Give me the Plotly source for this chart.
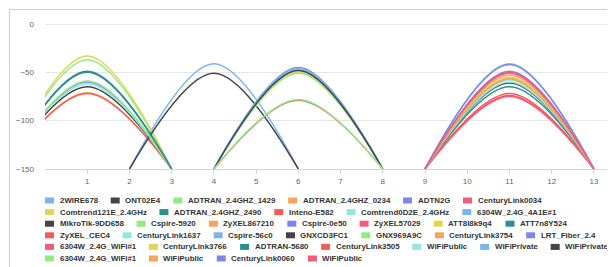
import plotly.graph_objects as go

# ---------------- data ----------------
names = [
    "2WIRE678", "ONT02E4", "ADTRAN_2.4GHZ_1429", "ADTRAN_2.4GHZ_0234", "ADTN2G", "CenturyLink0034",
    "Comtrend121E_2.4GHz", "ADTRAN_2.4GHZ_2490", "Inteno-E582", "Comtrend0D2E_2.4GHz", "6304W_2.4G_4A1E#1",
    "MikroTik-9DD658", "Cspire-5920", "ZyXEL867210", "Cspire-0e50", "ZyXEL57029", "ATT8I8k9q4", "ATT7n8Y524",
    "ZyXEL_CEC4", "CenturyLink1637", "Cspire-56c0", "GNXCD3FC1", "GNX969A9C", "CenturyLink3754", "LRT_Fiber_2.4",
    "6304W_2.4G_WiFi#1", "CenturyLink3766", "ADTRAN-5680", "CenturyLink3505", "WiFiPublic", "WiFiPrivate", "WiFiPrivate",
    "6304W_2.4G_WiFi#1", "WiFiPublic", "CenturyLink0060", "WiFiPublic",
]
channels = [
    4, 1, 1, 1, 1, 6,
    1, 1, 1, 1, 11,
    4, 1, 11, 6, 11, 6, 1,
    11, 11, 6, 11, 6, 11, 11,
    11, 11, 11, 11, 11, 6, 6,
    6, 11, 11, 11,
]
signal_dbm = [
    -41, -65, -37, -71, -60, -79,
    -33, -49, -72, -62, -41,
    -51, -59, -53, -45, -51, -50, -50,
    -74, -58, -46, -61, -51, -56, -49,
    -75, -55, -65, -72, -60, -47, -48,
    -78, -57, -42, -50,
]
legend_rows = [6, 5, 7, 7, 7, 4]
x_ticks = list(range(1, 14))
y_ticks = [0, -50, -100, -150]
floor_dbm = -150
channel_halfwidth = 2

palette = ["#7cb5ec", "#434348", "#90ed7d", "#f7a35c", "#8085e9",
           "#f15c80", "#e4d354", "#2b908f", "#f45b5b", "#91e8e1"]

# ---------------- geometry (page has an 8px body margin) ----------------
PAGE = 8
W, H = 607, 259
L, R, T, B = 37, 0, 16, 98
plot_w = W - L - R
plot_h = H - T - B


def px_x(xs):  # screen px -> paper x
    return (xs - PAGE - L) / plot_w


def px_y(ys):  # screen px -> paper y
    return (H - B - (ys - PAGE)) / plot_h


# Arial/Liberation Sans Bold advance widths (per 1000 em) for legend layout
AW = {c: 556 for c in "0123456789#_"}
AW.update({" ": 278, "-": 333, ".": 278})
AW.update(dict(zip("ABCDEFGHIJKLMNOPQRSTUVWXYZ",
                   [722, 722, 722, 722, 667, 611, 778, 722, 278, 556, 722, 611, 833,
                    722, 778, 667, 778, 722, 667, 611, 722, 667, 944, 667, 667, 611])))
AW.update(dict(zip("abcdefghijklmnopqrstuvwxyz",
                   [556, 611, 556, 611, 556, 333, 611, 611, 278, 278, 556, 278, 889,
                    611, 611, 611, 611, 389, 556, 333, 611, 556, 778, 556, 556, 500])))
LEG_FONT = 7.9


def text_w(s):
    return sum(AW.get(ch, 600) for ch in s) / 1000.0 * LEG_FONT


fig = go.Figure()
for i, (n, c, p) in enumerate(zip(names, channels, signal_dbm)):
    fig.add_trace(go.Scatter(
        x=[c - channel_halfwidth, c, c + channel_halfwidth],
        y=[floor_dbm, p, floor_dbm],
        mode="lines",
        name=n,
        showlegend=False,
        line=dict(color=palette[i % len(palette)], width=1.5, shape="spline", smoothing=1),
    ))

# legend: flowing rows of colour swatch + bold name
start = 0
row_y0, row_step = 200.5, 11.6
sym_w, sym_h, sym_gap, item_gap = 9, 6, 13.5, 14
for r, cnt in enumerate(legend_rows):
    ys = row_y0 + r * row_step
    xs = 45
    for i in range(start, start + cnt):
        col = palette[i % len(palette)]
        fig.add_shape(type="rect", xref="paper", yref="paper",
                      x0=px_x(xs), x1=px_x(xs + sym_w), y0=px_y(ys + sym_h / 2), y1=px_y(ys - sym_h / 2),
                      line=dict(width=0), fillcolor=col, layer="above")
        fig.add_annotation(xref="paper", yref="paper", x=px_x(xs + sym_gap), y=px_y(ys),
                           xanchor="left", yanchor="middle", showarrow=False, borderpad=0,
                           text=names[i],
                           font=dict(family="Liberation Sans, Arial, sans-serif", size=LEG_FONT,
                                     color="#333333", weight="bold"))
        xs += sym_gap + text_w(names[i]) + item_gap
    start += cnt

# outer container border (partly cropped in the original)
fig.add_shape(type="rect", xref="paper", yref="paper",
              x0=px_x(9.5), x1=px_x(700), y0=px_y(400), y1=px_y(9.5),
              line=dict(color="#cccccc", width=1), fillcolor="rgba(0,0,0,0)", layer="above")

fig.update_layout(
    width=W, height=H,
    margin=dict(l=L, r=R, t=T, b=B),
    paper_bgcolor="white", plot_bgcolor="white",
    font=dict(family="Liberation Sans, Arial, sans-serif", color="#666666", size=8),
    hovermode="closest",
)
fig.update_xaxes(
    range=[0, 13.5], tickvals=x_ticks, showgrid=False, zeroline=False,
    showline=True, linecolor="#ccd6eb", linewidth=1,
    ticks="outside", ticklen=4, tickcolor="#ccd6eb", tickwidth=1,
    tickfont=dict(size=8, color="#666666"),
)
fig.update_yaxes(
    range=[-150, 0], tickvals=y_ticks, showgrid=True, gridcolor="#e6e6e6", gridwidth=1,
    zeroline=True, zerolinecolor="#e6e6e6", zerolinewidth=1, showline=False,
    ticks="", ticklabelstandoff=10, tickfont=dict(size=8, color="#666666"),
)

fig.write_html("out.html")
